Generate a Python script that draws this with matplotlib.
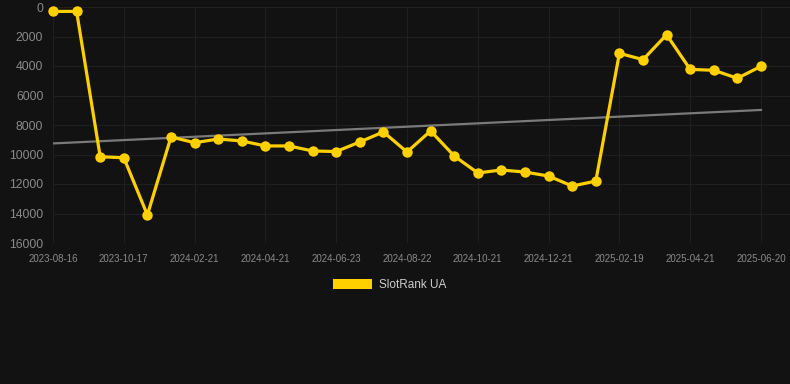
import numpy as np
import matplotlib
matplotlib.use('Agg')
from matplotlib import pyplot as plt
from matplotlib.patches import Rectangle

plt.rcParams['font.family'] = ['Liberation Sans', 'DejaVu Sans']

# %% data
tick_labels = ['2023-08-16', '2023-10-17', '2024-02-21', '2024-04-21', '2024-06-23',
               '2024-08-22', '2024-10-21', '2024-12-21', '2025-02-19', '2025-04-21',
               '2025-06-20']
rank = [300, 300, 10150, 10220, 14100, 8810, 9200, 8950, 9080, 9420,
        9420, 9760, 9800, 9150, 8470, 9830, 8400, 10100, 11250, 11050,
        11190, 11460, 12140, 11800, 3140, 3570, 1880, 4230, 4290, 4830,
        4020]
trend = [9250, 6980]
series_name = 'SlotRank UA'

bg = '#121212'
yellow = '#FFD000'

# %% plot
fig = plt.figure(figsize=(7.9, 3.84), dpi=100, facecolor=bg)
W, H = 790, 384
x0, x1, y0, y1 = 53, 790, 7, 243
ax = fig.add_axes([x0 / W, 1 - y1 / H, (x1 - x0) / W, (y1 - y0) / H])
ax.set_facecolor(bg)

n = len(rank)
x = np.arange(n)
step = (761 - 53) / (n - 1)
ax.set_xlim(0, (x1 - x0) / step)
ax.set_ylim(16000, 0)

for s in ax.spines.values():
    s.set_visible(False)

ax.set_yticks(np.arange(0, 16001, 2000))
ax.set_xticks(x[::3])
ax.set_xticklabels(tick_labels)
ax.tick_params(axis='y', length=0, pad=7, labelsize=8.7, labelcolor='#8a8a8a')
ax.tick_params(axis='x', length=0, pad=8, labelsize=7, labelcolor='#8a8a8a')
ax.grid(True, color='#1f1f1f', linewidth=0.8)
ax.set_axisbelow(True)

ax.plot([x[0], x[-1]], trend, color='#7a7a7a', linewidth=1.6, zorder=2)
ax.plot(x, rank, color=yellow, linewidth=2.3, marker='o', markersize=7.5,
        markeredgewidth=0, clip_on=False, zorder=3)

# legend
fig.patches.append(Rectangle((333 / W, 1 - 289 / H), 39 / W, 10 / H,
                             transform=fig.transFigure, facecolor=yellow,
                             edgecolor='none'))
fig.text(379 / W, 1 - 284.5 / H, series_name, color='#cccccc', fontsize=8.5,
         va='center', ha='left')

fig.savefig('out.png', dpi=100, facecolor=bg)
